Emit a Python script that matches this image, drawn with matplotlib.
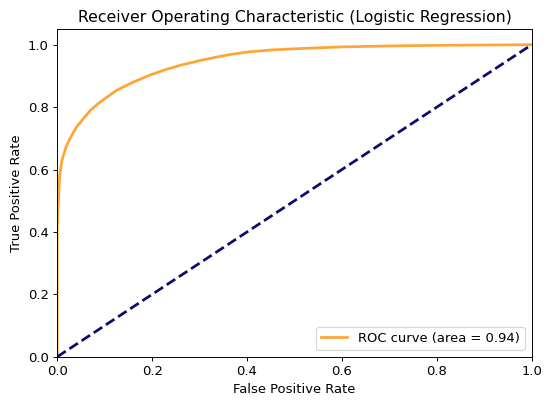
import matplotlib
matplotlib.use('Agg')
import matplotlib.pyplot as plt

# ROC points
fpr = [0.0, 0.0, 0.0, 0.001, 0.003, 0.005, 0.010, 0.018, 0.027, 0.040, 0.055,
       0.070, 0.090, 0.105, 0.125, 0.160, 0.194, 0.230, 0.264, 0.300, 0.334,
       0.370, 0.404, 0.450, 0.500, 0.550, 0.600, 0.700, 0.800, 0.900, 1.0]
tpr = [0.0, 0.20, 0.40, 0.46, 0.51, 0.58, 0.63, 0.67, 0.70, 0.735, 0.763,
       0.790, 0.816, 0.832, 0.854, 0.880, 0.902, 0.921, 0.936, 0.949, 0.960,
       0.970, 0.977, 0.983, 0.987, 0.990, 0.993, 0.996, 0.998, 0.999, 1.0]
roc_auc = 0.94

plt.rcParams['font.size'] = 11
fig = plt.figure(figsize=(6.4, 4.71), dpi=86)
plt.plot(fpr, tpr, color='darkorange', alpha=0.78, lw=2.3,
         label='ROC curve (area = %0.2f)' % roc_auc)
plt.plot([0, 1], [0, 1], color='#0c0c6a', lw=2.3, linestyle='--')
plt.xlim([0.0, 1.0])
plt.ylim([0.0, 1.05])
plt.xlabel('False Positive Rate')
plt.ylabel('True Positive Rate')
plt.title('Receiver Operating Characteristic (Logistic Regression)', fontsize=13.2)
plt.legend(loc='lower right')
plt.subplots_adjust(left=0.104, right=0.966, bottom=0.119, top=0.928)
plt.savefig('out.png', dpi=86)
